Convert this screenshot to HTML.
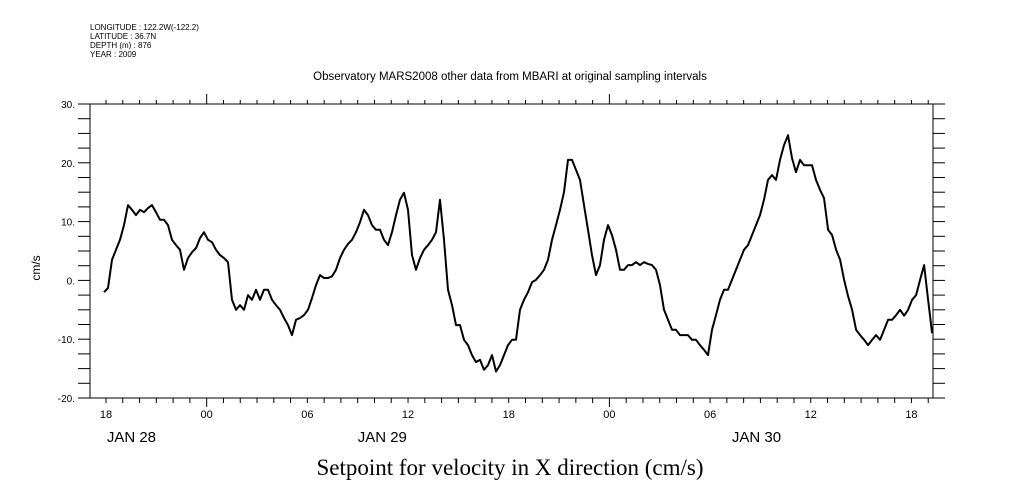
<!DOCTYPE html>
<html><head><meta charset="utf-8"><style>
html,body{margin:0;padding:0;background:#fff;}
svg{display:block;font-family:"Liberation Sans",sans-serif;}
</style></head><body>
<svg id="chart" width="1009" height="504" viewBox="0 0 1009 504" xmlns="http://www.w3.org/2000/svg">
<g font-size="8" fill="#000">
<text x="90" y="30">LONGITUDE : 122.2W(-122.2)</text>
<text x="90" y="39">LATITUDE : 36.7N</text>
<text x="90" y="48">DEPTH (m) : 876</text>
<text x="90" y="57">YEAR : 2009</text>
</g>
<text x="510" y="80" font-size="11.5" text-anchor="middle">Observatory MARS2008 other data from MBARI at original sampling intervals</text>
<text x="40" y="268" font-size="12" text-anchor="middle" transform="rotate(-90 40 268)">cm/s</text>
<text x="510" y="475" font-size="23" text-anchor="middle" font-family="Liberation Serif, serif">Setpoint for velocity in X direction (cm/s)</text>
<g id="axes"></g>
<g id="series"></g>
</svg>
<script>
const yTicks=[-20,-10,0,10,20,30];
const xTickLabels=['18','00','06','12','18','00','06','12','18'];
const dateLabels=['JAN 28','JAN 29','JAN 30'];
const dateLabelHours=[0.05,15,37.3];
const startHour=-0.12;
const stepHours=0.2384;
const values=[-2.0,-1.3,3.5,5.2,6.9,9.4,12.8,12.0,11.1,12.0,11.6,12.3,12.8,11.6,10.3,10.3,9.4,6.9,6.0,5.2,1.8,3.8,4.8,5.5,7.2,8.2,6.9,6.5,5.2,4.3,3.8,3.1,-3.3,-5.0,-4.2,-5.0,-2.5,-3.3,-1.6,-3.3,-1.6,-1.6,-3.3,-4.2,-5.0,-6.4,-7.6,-9.3,-6.7,-6.4,-5.9,-5.0,-3.0,-0.8,0.9,0.4,0.4,0.7,1.8,3.8,5.2,6.2,6.9,8.2,9.9,12.0,11.1,9.4,8.6,8.6,6.9,6.0,8.2,11.1,13.7,14.9,12.0,4.3,1.8,3.8,5.2,6.0,6.9,8.2,13.7,6.9,-1.6,-4.2,-7.6,-7.6,-10.1,-11.0,-12.7,-13.9,-13.5,-15.2,-14.4,-12.7,-15.5,-14.4,-12.7,-11.0,-10.1,-10.1,-5.0,-3.3,-2.0,-0.3,0.1,0.9,1.8,3.5,6.9,9.4,12.0,15.0,20.5,20.5,18.8,17.1,12.8,8.6,4.3,0.9,2.6,6.9,9.4,7.7,5.2,1.8,1.8,2.6,2.6,3.1,2.6,3.1,2.8,2.6,1.8,-0.8,-5.0,-6.7,-8.4,-8.4,-9.3,-9.3,-9.3,-10.1,-10.1,-11.0,-11.8,-12.7,-8.4,-5.9,-3.3,-1.6,-1.6,0.1,1.8,3.5,5.2,6.0,7.7,9.4,11.1,13.7,17.1,17.9,17.1,20.5,23.0,24.7,20.8,18.4,20.5,19.6,19.6,19.6,17.1,15.4,14.0,8.6,7.7,5.2,3.5,0.1,-2.7,-5.0,-8.4,-9.3,-10.1,-11.0,-10.1,-9.3,-10.1,-8.4,-6.7,-6.7,-5.9,-5.0,-6.0,-5.0,-3.3,-2.5,0.1,2.6,-3.3,-9.0];

const L=90,R=933,T=104,B=398;
const x0=106,pxPerHour=16.78;
const X=h=>x0+h*pxPerHour;
const Y=v=>T+(30-v)*(B-T)/50;
const NS='http://www.w3.org/2000/svg';
const axes=document.getElementById('axes');
function mk(tag,attrs,parent){const e=document.createElementNS(NS,tag);for(const k in attrs)e.setAttribute(k,attrs[k]);parent.appendChild(e);return e;}
const frame=mk('rect',{x:L,y:T,width:R-L,height:B-T,fill:'none',stroke:'#000','stroke-width':1},axes);


for(let v=-20;v<=30;v+=2.5){
  const y=Y(v);
  const t1=mk('line',{x1:L-12,x2:L,y1:y,y2:y,stroke:'#000'},axes);
  
  
  const t2=mk('line',{x1:R,x2:R+12,y1:y,y2:y,stroke:'#000'},axes);
  
  
}
yTicks.forEach(v=>{
  const t=mk('text',{x:75,y:Y(v)+4,'font-size':10,'text-anchor':'end'},axes);
  t.textContent=v+'.';
  
  
});
for(let h=-1;h<=49;h++){
  const x=X(h);if(x<L||x>R)continue;
  const major=((h+18)%24)===0;
  const b=mk('line',{x1:x,x2:x,y1:B,y2:B+(major?9:5),stroke:'#000'},axes);
  
  
  const t=mk('line',{x1:x,x2:x,y1:T,y2:T-(major?10:4),stroke:'#000'},axes);
  
  
}
xTickLabels.forEach((lab,i)=>{
  const t=mk('text',{x:X(i*6),y:418,'font-size':11,'text-anchor':'middle'},axes);
  t.textContent=lab;
  
  
});
dateLabels.forEach((lab,i)=>{
  const t=mk('text',{x:X(dateLabelHours[i]),y:442,'font-size':15},axes);
  t.textContent=lab;
  
  
});
let d='';
values.forEach((v,i)=>{d+=(i?'L':'M')+X(startHour+i*stepHours).toFixed(1)+' '+Y(v).toFixed(1);});
const p=mk('path',{d:d,fill:'none',stroke:'#000','stroke-width':2,'stroke-linejoin':'round'},document.getElementById('series'));


</script>
</body></html>
